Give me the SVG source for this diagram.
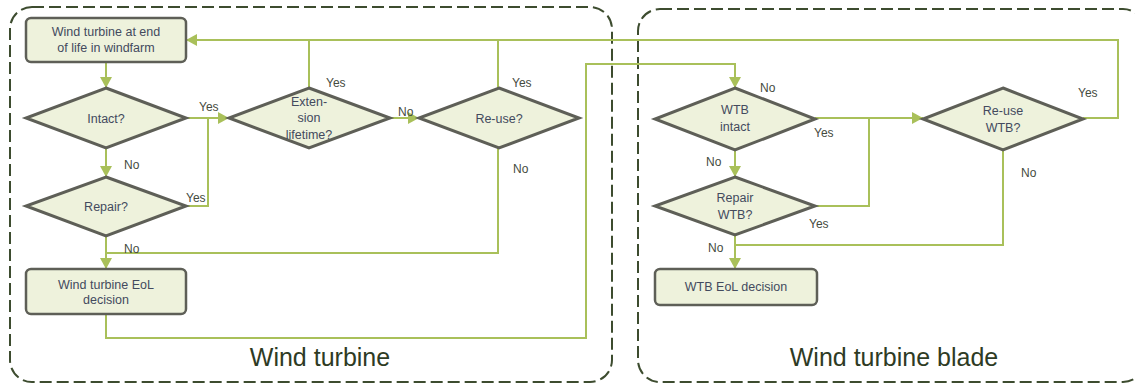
<svg xmlns="http://www.w3.org/2000/svg" width="1135" height="385" viewBox="0 0 1135 385">
  <style>
    .frame { fill: none; stroke: #3d4c2f; stroke-width: 2; stroke-dasharray: 12 5; }
    .box { fill: #eef2dc; stroke: #5e5f57; stroke-width: 2.5; }
    .dia { fill: #eef2dc; stroke: #5e5f57; stroke-width: 3; stroke-linejoin: miter; }
    .ntext { font-family: "Liberation Sans", Arial, sans-serif; font-size: 12.5px; fill: #434a5e; text-anchor: middle; }
    .lbl { font-family: "Liberation Sans", Arial, sans-serif; font-size: 12px; fill: #454b40; }
    .title { font-family: "Liberation Sans", Arial, sans-serif; font-size: 25px; fill: #2e3b24; text-anchor: middle; }
    .conn { fill: none; stroke: #a9c05a; stroke-width: 2; }
    .arr { marker-end: url(#head); }
  </style>
  <defs>
    <marker id="head" markerUnits="userSpaceOnUse" markerWidth="12" markerHeight="12" refX="11" refY="6" orient="auto">
      <path d="M0,0 L11,6 L0,12 z" fill="#a9c05a"/>
    </marker>
  </defs>

  <rect width="1135" height="385" fill="#ffffff"/>

  <!-- containers -->
  <g id="container-turbine">
    <rect class="frame" x="10" y="7" width="602" height="375" rx="22" ry="22"/>
    <text class="title" x="320" y="366">Wind turbine</text>
  </g>
  <g id="container-blade">
    <rect class="frame" x="638" y="9" width="507" height="373" rx="22" ry="22"/>
    <text class="title" x="894" y="366">Wind turbine blade</text>
  </g>

  <!-- connectors -->
  <g id="connectors">
    <path class="conn arr" d="M106,62 V88"/>
    <path class="conn arr" d="M186,118 H229"/>
    <path class="conn" d="M186,206 H208 V118"/>
    <path class="conn arr" d="M106,148 V177"/>
    <path class="conn arr" d="M390,118 H419"/>
    <path class="conn" d="M309,88 V40"/>
    <path class="conn" d="M498,88 V40"/>
    <path class="conn arr" d="M1083,118 H1118 V40 H186"/>
    <path class="conn" d="M498,148 V253 H106"/>
    <path class="conn arr" d="M106,236 V269"/>
    <path class="conn arr" d="M106,314 V338 H586 V64 H735 V88"/>
    <path class="conn arr" d="M735,150 V177"/>
    <path class="conn arr" d="M815,118 H923"/>
    <path class="conn" d="M815,206 H869 V118"/>
    <path class="conn" d="M1003,150 V245 H735"/>
    <path class="conn arr" d="M735,235 V269"/>

    <text class="lbl" x="199" y="111">Yes</text>
    <text class="lbl" x="124" y="169">No</text>
    <text class="lbl" x="186" y="202">Yes</text>
    <text class="lbl" x="124" y="253">No</text>
    <text class="lbl" x="326" y="87">Yes</text>
    <text class="lbl" x="398" y="116">No</text>
    <text class="lbl" x="512" y="87">Yes</text>
    <text class="lbl" x="513" y="173">No</text>
    <text class="lbl" x="760" y="92">No</text>
    <text class="lbl" x="706" y="166">No</text>
    <text class="lbl" x="814" y="137">Yes</text>
    <text class="lbl" x="809" y="228">Yes</text>
    <text class="lbl" x="708" y="252">No</text>
    <text class="lbl" x="1078" y="97">Yes</text>
    <text class="lbl" x="1021" y="177">No</text>
  </g>

  <!-- wind turbine nodes -->
  <g id="n-start">
    <rect class="box" x="26" y="18" width="160" height="44" rx="5" ry="5"/>
    <text class="ntext" x="106" y="36">Wind turbine at end</text>
    <text class="ntext" x="106" y="52">of life in windfarm</text>
  </g>
  <g id="n-intact">
    <polygon class="dia" points="106,88 186,118 106,148 26,118"/>
    <text class="ntext" x="106" y="123">Intact?</text>
  </g>
  <g id="n-extension">
    <polygon class="dia" points="309,88 390,118 309,148 229,118"/>
    <text class="ntext" x="309" y="106">Exten-</text>
    <text class="ntext" x="309" y="122">sion</text>
    <text class="ntext" x="309" y="139">lifetime?</text>
  </g>
  <g id="n-reuse">
    <polygon class="dia" points="499,88 579,118 499,148 419,118"/>
    <text class="ntext" x="499" y="123">Re-use?</text>
  </g>
  <g id="n-repair">
    <polygon class="dia" points="106,177 186,206 106,236 26,206"/>
    <text class="ntext" x="106" y="211">Repair?</text>
  </g>
  <g id="n-wt-eol">
    <rect class="box" x="26" y="269" width="160" height="45" rx="5" ry="5"/>
    <text class="ntext" x="106" y="289">Wind turbine EoL</text>
    <text class="ntext" x="106" y="304">decision</text>
  </g>

  <!-- blade nodes -->
  <g id="n-wtb-intact">
    <polygon class="dia" points="735,88 815,119 735,150 655,119"/>
    <text class="ntext" x="735" y="114">WTB</text>
    <text class="ntext" x="735" y="131">intact</text>
  </g>
  <g id="n-wtb-repair">
    <polygon class="dia" points="735,177 815,206 735,235 655,206"/>
    <text class="ntext" x="735" y="202">Repair</text>
    <text class="ntext" x="735" y="219">WTB?</text>
  </g>
  <g id="n-wtb-reuse">
    <polygon class="dia" points="1003,88 1083,119 1003,150 923,119"/>
    <text class="ntext" x="1003" y="115">Re-use</text>
    <text class="ntext" x="1003" y="132">WTB?</text>
  </g>
  <g id="n-wtb-eol">
    <rect class="box" x="655" y="269" width="162" height="36" rx="5" ry="5"/>
    <text class="ntext" x="736" y="291">WTB EoL decision</text>
  </g>
</svg>
